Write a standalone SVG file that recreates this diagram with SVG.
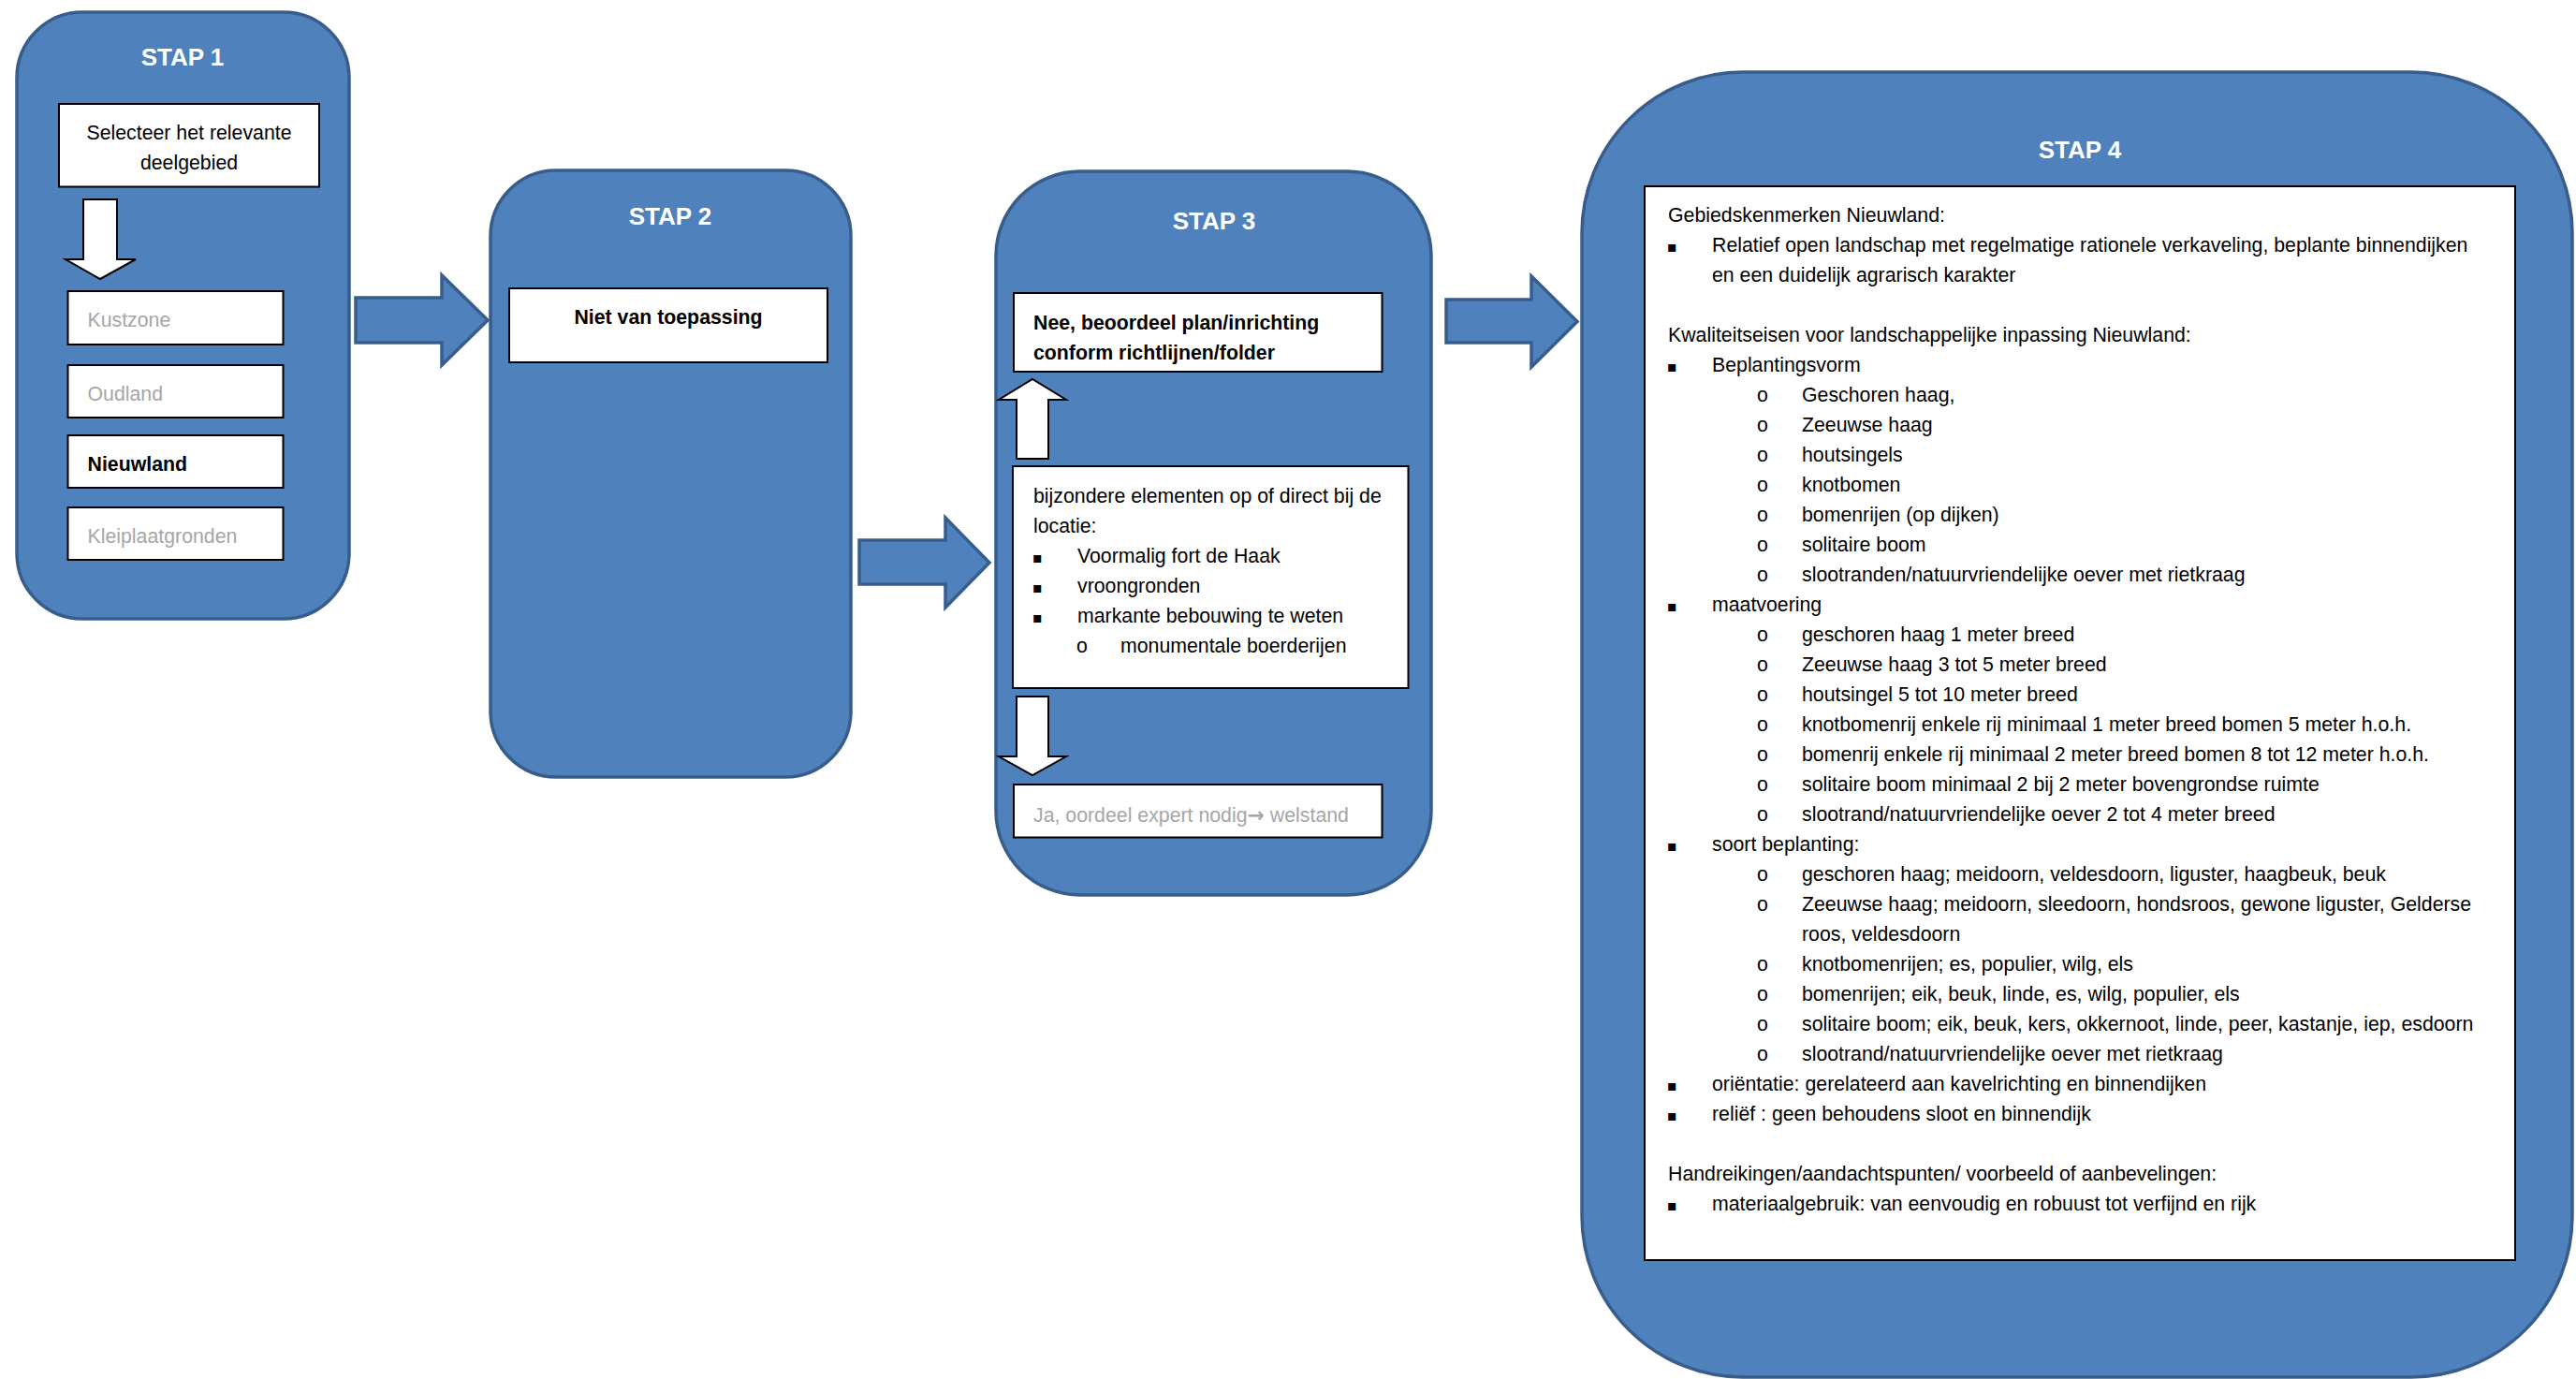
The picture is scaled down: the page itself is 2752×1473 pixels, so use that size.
<svg xmlns="http://www.w3.org/2000/svg" width="2752" height="1473" viewBox="0 0 2752 1473">
<style>
.stage{fill:#4F81BD;stroke:#385D8A;stroke-width:3.5}
.box{fill:#fff;stroke:#000;stroke-width:2}
.barrow{fill:#4F81BD;stroke:#385D8A;stroke-width:3.5;stroke-linejoin:miter}
.warrow{fill:#fff;stroke:#000;stroke-width:2}
.title{font-family:"Liberation Sans",Arial,sans-serif;font-weight:bold;font-size:26px;fill:#fff;text-anchor:middle}
text{font-family:"Liberation Sans",Arial,sans-serif;font-size:21.3px;fill:#000}
.b{font-weight:bold}
.g{fill:#A6A6A6}
.c{text-anchor:middle}
.bul{font-family:"DejaVu Sans",sans-serif;font-size:16px}
.arr{font-family:"DejaVu Sans",sans-serif;font-size:22px;font-weight:bold}
</style>
<rect width="2752" height="1473" fill="#fff"/>

<g id="stap1">
<rect class="stage" x="18" y="13" width="355" height="648" rx="70"/>
<text class="title" x="195" y="70">STAP 1</text>
</g>
<g id="selecteer">
<rect class="box" x="63" y="111" width="278" height="88.5"/>
<text class="c" x="202" y="149">Selecteer het relevante</text>
<text class="c" x="202" y="181">deelgebied</text>
</g>
<g id="kustzone">
<rect class="box" x="72.5" y="311" width="230" height="57"/>
<text class="g" x="93.5" y="349">Kustzone</text>
</g>
<g id="oudland">
<rect class="box" x="72.5" y="390" width="230" height="56"/>
<text class="g" x="93.5" y="428">Oudland</text>
</g>
<g id="nieuwland">
<rect class="box" x="72.5" y="465" width="230" height="56"/>
<text class="b" x="93.5" y="503">Nieuwland</text>
</g>
<g id="kleiplaatgronden">
<rect class="box" x="72.5" y="542" width="230" height="56"/>
<text class="g" x="93.5" y="580">Kleiplaatgronden</text>
</g>

<g id="stap2">
<rect class="stage" x="524" y="182" width="385" height="648" rx="70"/>
<text class="title" x="716" y="240">STAP 2</text>
</g>
<g id="niet-van-toepassing">
<rect class="box" x="544" y="308" width="340" height="79"/>
<text class="b c" x="714" y="346">Niet van toepassing</text>
</g>

<g id="stap3">
<rect class="stage" x="1064" y="183" width="465" height="773" rx="90"/>
<text class="title" x="1297" y="245">STAP 3</text>
</g>
<g id="nee">
<rect class="box" x="1083" y="313" width="393.5" height="84"/>
<text class="b" x="1104" y="352">Nee, beoordeel plan/inrichting</text>
<text class="b" x="1104" y="384">conform richtlijnen/folder</text>
</g>
<g id="bijzondere-elementen">
<rect class="box" x="1082" y="498" width="422.5" height="237"/>
<text x="1104" y="537">bijzondere elementen op of direct bij de</text>
<text x="1104" y="569">locatie:</text>
<text class="bul" x="1103" y="601">▪</text><text x="1151" y="601">Voormalig fort de Haak</text>
<text class="bul" x="1103" y="633">▪</text><text x="1151" y="633">vroongronden</text>
<text class="bul" x="1103" y="665">▪</text><text x="1151" y="665">markante bebouwing te weten</text>
<text x="1150" y="697">o</text><text x="1197" y="697">monumentale boerderijen</text>
</g>
<g id="ja">
<rect class="box" x="1083" y="838" width="393.5" height="56.5"/>
<text class="g" x="1104" y="878">Ja, oordeel expert nodig<tspan class="arr">→</tspan> welstand</text>
</g>

<g id="stap4">
<rect class="stage" x="1690" y="77" width="1058" height="1394" rx="172"/>
<text class="title" x="2222" y="169">STAP 4</text>
</g>
<g id="stap4-inhoud">
<rect class="box" x="1757" y="199" width="930" height="1147"/>
<text x="1782" y="237">Gebiedskenmerken Nieuwland:</text>
<text class="bul" x="1781" y="269">▪</text><text x="1829" y="269">Relatief open landschap met regelmatige rationele verkaveling, beplante binnendijken</text>
<text x="1829" y="301">en een duidelijk agrarisch karakter</text>
<text x="1782" y="365">Kwaliteitseisen voor landschappelijke inpassing Nieuwland:</text>
<text class="bul" x="1781" y="397">▪</text><text x="1829" y="397">Beplantingsvorm</text>
<text x="1877" y="429">o</text><text x="1925" y="429">Geschoren haag,</text>
<text x="1877" y="461">o</text><text x="1925" y="461">Zeeuwse haag</text>
<text x="1877" y="493">o</text><text x="1925" y="493">houtsingels</text>
<text x="1877" y="525">o</text><text x="1925" y="525">knotbomen</text>
<text x="1877" y="557">o</text><text x="1925" y="557">bomenrijen (op dijken)</text>
<text x="1877" y="589">o</text><text x="1925" y="589">solitaire boom</text>
<text x="1877" y="621">o</text><text x="1925" y="621">slootranden/natuurvriendelijke oever met rietkraag</text>
<text class="bul" x="1781" y="653">▪</text><text x="1829" y="653">maatvoering</text>
<text x="1877" y="685">o</text><text x="1925" y="685">geschoren haag 1 meter breed</text>
<text x="1877" y="717">o</text><text x="1925" y="717">Zeeuwse haag 3 tot 5 meter breed</text>
<text x="1877" y="749">o</text><text x="1925" y="749">houtsingel 5 tot 10 meter breed</text>
<text x="1877" y="781">o</text><text x="1925" y="781">knotbomenrij enkele rij minimaal 1 meter breed bomen 5 meter h.o.h.</text>
<text x="1877" y="813">o</text><text x="1925" y="813">bomenrij enkele rij minimaal 2 meter breed bomen 8 tot 12 meter h.o.h.</text>
<text x="1877" y="845">o</text><text x="1925" y="845">solitaire boom minimaal 2 bij 2 meter bovengrondse ruimte</text>
<text x="1877" y="877">o</text><text x="1925" y="877">slootrand/natuurvriendelijke oever 2 tot 4 meter breed</text>
<text class="bul" x="1781" y="909">▪</text><text x="1829" y="909">soort beplanting:</text>
<text x="1877" y="941">o</text><text x="1925" y="941">geschoren haag; meidoorn, veldesdoorn, liguster, haagbeuk, beuk</text>
<text x="1877" y="973">o</text><text x="1925" y="973">Zeeuwse haag; meidoorn, sleedoorn, hondsroos, gewone liguster, Gelderse</text>
<text x="1925" y="1005">roos, veldesdoorn</text>
<text x="1877" y="1037">o</text><text x="1925" y="1037">knotbomenrijen; es, populier, wilg, els</text>
<text x="1877" y="1069">o</text><text x="1925" y="1069">bomenrijen; eik, beuk, linde, es, wilg, populier, els</text>
<text x="1877" y="1101">o</text><text x="1925" y="1101">solitaire boom; eik, beuk, kers, okkernoot, linde, peer, kastanje, iep, esdoorn</text>
<text x="1877" y="1133">o</text><text x="1925" y="1133">slootrand/natuurvriendelijke oever met rietkraag</text>
<text class="bul" x="1781" y="1165">▪</text><text x="1829" y="1165">oriëntatie: gerelateerd aan kavelrichting en binnendijken</text>
<text class="bul" x="1781" y="1197">▪</text><text x="1829" y="1197">reliëf : geen behoudens sloot en binnendijk</text>
<text x="1782" y="1261">Handreikingen/aandachtspunten/ voorbeeld of aanbevelingen:</text>
<text class="bul" x="1781" y="1293">▪</text><text x="1829" y="1293">materiaalgebruik: van eenvoudig en robuust tot verfijnd en rijk</text>
</g>

<g id="connectors">
<polygon class="barrow" points="380,318 472,318 472,294 521,342 472,390 472,366 380,366"/>
<polygon class="barrow" points="918,577 1010,577 1010,553 1057,601 1010,649 1010,624 918,624"/>
<polygon class="barrow" points="1545,320 1636,320 1636,295 1685,343.5 1636,392 1636,366 1545,366"/>
<polygon class="warrow" points="89,213 125,213 125,277 145,277 107,298 70,277 89,277"/>
<polygon class="warrow" points="1086,490 1120,490 1120,427 1139,427 1103,405 1067,427 1086,427"/>
<polygon class="warrow" points="1086,744 1120,744 1120,808 1139,808 1103,828 1067,808 1086,808"/>
</g>
</svg>
